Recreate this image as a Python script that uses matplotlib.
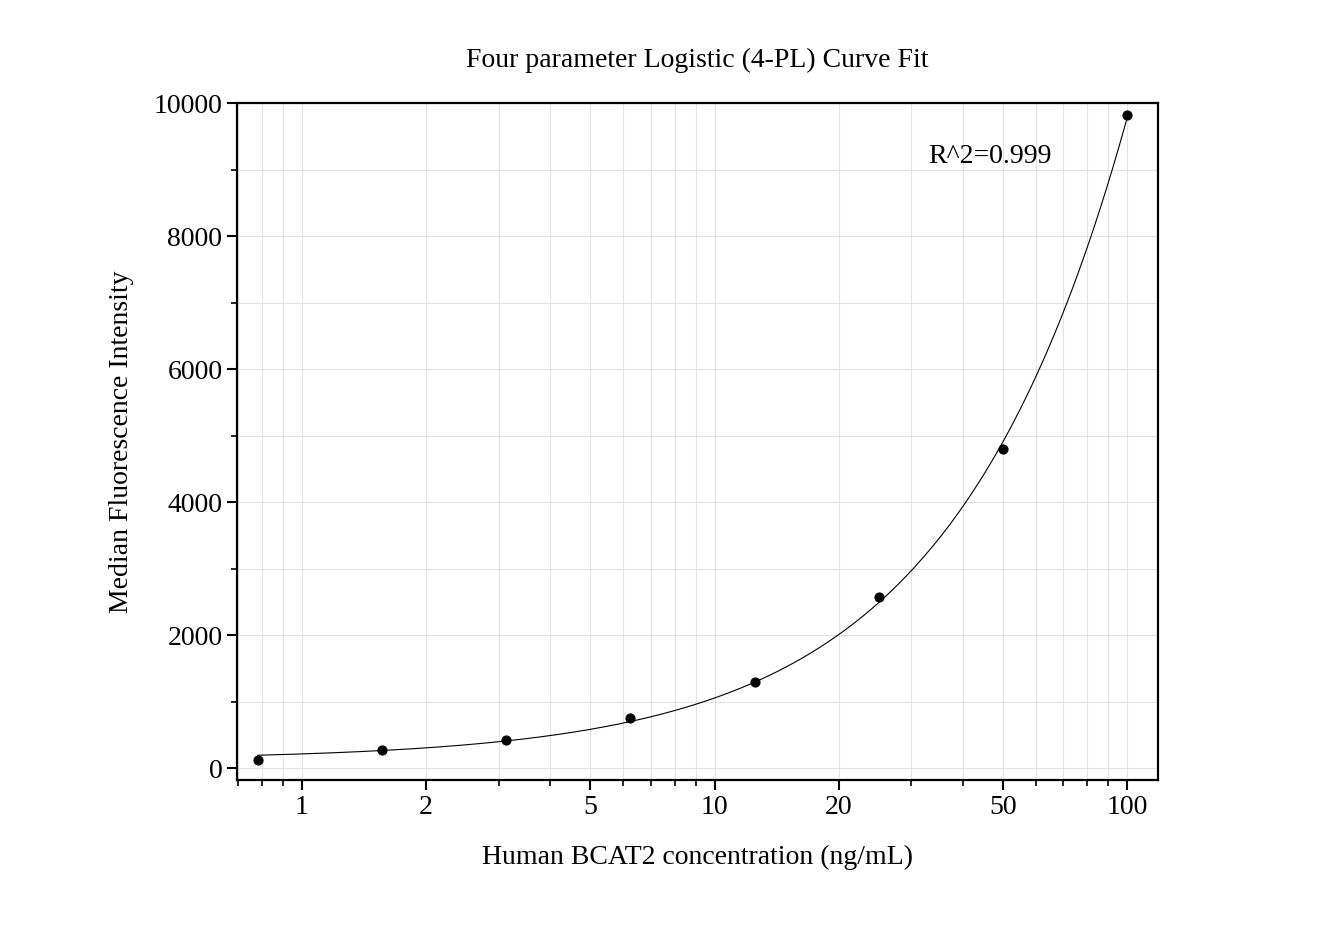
import matplotlib.pyplot as plt
import numpy as np
from matplotlib.ticker import FixedLocator, NullFormatter, MultipleLocator

plt.rcParams['font.family'] = 'Liberation Serif'

# Standard concentrations and measured MFI
conc = [0.78125, 1.5625, 3.125, 6.25, 12.5, 25, 50, 100]
mfi = [120, 280, 420, 750, 1290, 2570, 4800, 9820]
xticks = [1, 2, 5, 10, 20, 50, 100]

x = np.array(conc)
y = np.array(mfi)

# 4PL fit: grid over B, C; A and D solved linearly
best = None
for B in np.linspace(0.5, 3.0, 126):
    for C in np.logspace(1, 4, 301):
        g = 1.0 / (1.0 + (x / C) ** B)
        M = np.column_stack([g, 1 - g])
        coef, *_ = np.linalg.lstsq(M, y, rcond=None)
        err = np.sum((M @ coef - y) ** 2)
        if best is None or err < best[0]:
            best = (err, B, C, coef)
_, B, C, (A, D) = best

xf = np.logspace(np.log10(conc[0]), np.log10(conc[-1]), 300)
yf = D + (A - D) / (1 + (xf / C) ** B)

fig = plt.figure(figsize=(13.39, 9.32), dpi=100)
ax = fig.add_axes([0.177, 0.163, 0.688, 0.726])

ax.plot(xf, yf, color='black', lw=0.8)
ax.scatter(x, y, color='black', s=40, zorder=3)

ax.set_xscale('log')
ax.set_xlim(0.696, 118.9)
ax.set_ylim(-180, 10000)
ax.xaxis.set_major_locator(FixedLocator(xticks))
ax.set_xticklabels([str(t) for t in xticks])
minors = [m * 10 ** e for e in (-1, 0, 1) for m in range(1, 10)]
ax.xaxis.set_minor_locator(FixedLocator([v for v in minors if v not in xticks]))
ax.xaxis.set_minor_formatter(NullFormatter())
ax.yaxis.set_major_locator(MultipleLocator(2000))
ax.yaxis.set_minor_locator(MultipleLocator(1000))

ax.grid(True, which='both', color='#e3e3e3', lw=0.8)
ax.set_axisbelow(True)
for s in ax.spines.values():
    s.set_linewidth(1.6)
ax.tick_params(which='major', direction='out', length=7, width=1.5, labelsize=20)
ax.tick_params(which='minor', direction='out', length=4, width=1.2)

ax.set_xlabel('Human BCAT2 concentration (ng/mL)', fontsize=20, labelpad=18)
ax.set_ylabel('Median Fluorescence Intensity', fontsize=20, labelpad=14)
ax.set_title('Four parameter Logistic (4-PL) Curve Fit', fontsize=20, pad=26)
ax.text(0.75, 0.94, 'R^2=0.999', transform=ax.transAxes, fontsize=20, va='top')

fig.savefig('out.png', dpi=100)
